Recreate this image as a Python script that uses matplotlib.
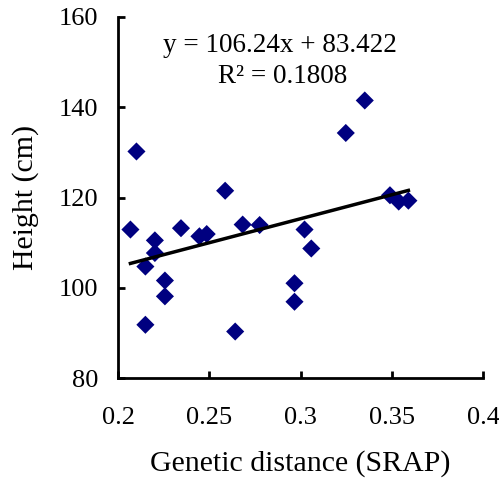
import matplotlib
matplotlib.use("Agg")
import matplotlib.pyplot as plt
import numpy as np

genetic_distance = [0.2068, 0.2101, 0.2150, 0.2150, 0.2202, 0.2202, 0.2257, 0.2257,
                    0.2345, 0.2446, 0.2486, 0.2587, 0.2642, 0.2683, 0.2776, 0.2967,
                    0.2967, 0.3022, 0.3059, 0.3248, 0.3352, 0.3490, 0.3538, 0.3591]
height_cm = [112.9, 130.2, 104.7, 91.8, 110.5, 107.7, 101.6, 98.1,
             113.2, 111.4, 111.9, 121.5, 90.3, 114.0, 113.9, 101.0,
             96.9, 112.9, 108.7, 134.3, 141.5, 120.5, 119.1, 119.3]
slope = 106.24
intercept = 83.422
r_squared = 0.1808
x_ticks = [0.2, 0.25, 0.3, 0.35, 0.4]
x_tick_labels = ["0.2", "0.25", "0.3", "0.35", "0.4"]
y_ticks = [80, 100, 120, 140, 160]

plt.rcParams['font.family'] = ['Liberation Serif', 'DejaVu Serif']

fig = plt.figure(figsize=(4.99, 4.87), dpi=100)
ax = fig.add_axes([0.2365, 0.2238, 0.7315, 0.7413])

ax.scatter(genetic_distance, height_cm, marker='D', s=85, color='#000080',
           edgecolors='none', zorder=3)

xs = np.array([min(genetic_distance), max(genetic_distance)])
ax.plot(xs, slope * xs + intercept, color='black', lw=2.5, zorder=4)

ax.set_xlim(0.2, 0.4)
ax.set_ylim(80, 160)
ax.set_xticks(x_ticks)
ax.set_xticklabels(x_tick_labels)
ax.set_yticks(y_ticks)

for s in ['top', 'right']:
    ax.spines[s].set_visible(False)
for s in ['left', 'bottom']:
    ax.spines[s].set_linewidth(2)
ax.tick_params(axis='both', direction='in', length=5, width=2, labelsize=19)
ax.tick_params(axis='x', pad=21)
ax.tick_params(axis='y', pad=14.4)

ax.set_xlabel('Genetic distance (SRAP)', fontsize=21.5, labelpad=15)
ax.set_ylabel('Height (cm)', fontsize=21.5, labelpad=14)

ax.text(0.444, 0.903, f'y = {slope}x + {intercept}', transform=ax.transAxes,
        ha='center', va='baseline', fontsize=19.5)
ax.text(0.45, 0.817, f'R\u00b2 = {r_squared}', transform=ax.transAxes,
        ha='center', va='baseline', fontsize=19.5)

fig.savefig('out.png', dpi=100)
